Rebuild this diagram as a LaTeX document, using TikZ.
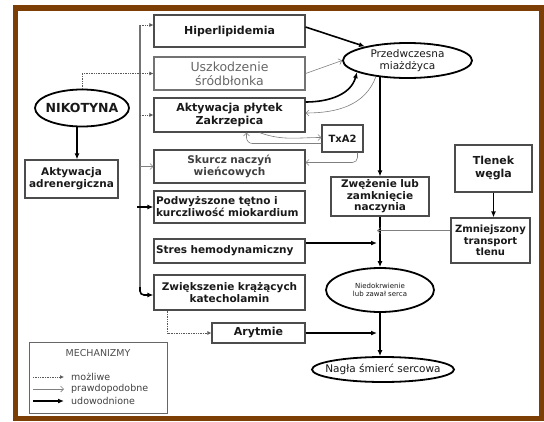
\documentclass[tikz,border=0pt]{standalone}
\usepackage{fontspec}
\setmainfont{DejaVu Sans}
\usepackage{tikz}
\usetikzlibrary{arrows.meta,positioning,shapes.geometric}
\definecolor{brazowy}{RGB}{125,62,5}

\begin{document}
\begin{tikzpicture}[x=1pt, y=-1pt,
                    every node/.style={font=\fontsize{10.5}{12}\selectfont\bfseries, text=black!90},
                    box/.style={draw=black!70, line width=1.2pt, inner sep=2pt, text width=147pt, align=center},
                    oval/.style={ellipse, draw=black, line width=1.8pt, inner ysep=0pt, align=center, fill=white},
                    leg/.style={anchor=west, inner sep=1pt, font=\fontsize{9.5}{11}\selectfont, text=black!75},
                    szyna/.style={draw=black!55, line width=2.2pt},
                    mozliwe/.style={draw=black!65, line width=0.7pt, densely dotted, -{Latex[length=4pt,width=4pt]}},
                    prawdop/.style={draw=black!50, line width=0.6pt, -{Straight Barb[length=3pt,width=6pt]}},
                    udowod/.style={draw=black, line width=1.6pt, -{Latex[length=6pt,width=5pt]}}]
    \useasboundingbox (0,0) rectangle (544,421);
    \draw[brazowy, line width=5.5pt] (15.5,8) rectangle (541.5,418.5);

   % left column
   \node[box, minimum height=32pt, font=\fontsize{11}{12.5}\selectfont\bfseries] (hiper) at (229.5,31) {Hiperlipidemia};
   \node[box, minimum height=33pt, draw=black!55, text=black!60,
         font=\fontsize{12.5}{14}\selectfont] (uszk) at (229.5,73.5) {Uszkodzenie\\śródbłonka};
   \node[box, minimum height=34pt, font=\fontsize{11}{12.5}\selectfont\bfseries] (akt) at (229.5,115) {Aktywacja płytek\\Zakrzepica};
   \node[box, minimum height=33pt, text=black!75] (skurcz) at (229.5,166.5) {Skurcz naczyń\\wieńcowych};
   \node[box, minimum height=32pt, align=left] (podw) at (229.5,207) {Podwyższone tętno i\\kurczliwość miokardium};
   \node[box, minimum height=24pt, align=left] (stres) at (229.5,251) {Stres hemodynamiczny};
   \node[box, minimum height=35pt] (zwiek) at (229.5,292.5) {Zwiększenie krążących\\katecholamin};
   \node[box, text width=89pt, minimum height=20pt, font=\fontsize{11}{12}\selectfont\bfseries] (aryt) at (258.5,333) {Arytmie};

   \node[oval, minimum width=94pt, minimum height=37pt, inner xsep=-6pt,
         font=\fontsize{12.5}{14}\selectfont\bfseries] (nik) at (82,108) {NIKOTYNA};
   \node[box, text width=89pt, minimum height=38pt] (adren) at (71.5,179) {Aktywacja\\adrenergiczna};

   % right side
   \node[oval, minimum width=129pt, minimum height=35pt, font=\fontsize{10.5}{12}\selectfont] (przed) at (407.5,60.5) {Przedwczesna\\miażdżyca};
   \node[box, text width=37pt, minimum height=27pt, font=\fontsize{10}{12}\selectfont\bfseries] (txa) at (342.5,138.5) {TxA2};
   \node[box, text width=94pt, minimum height=39pt, font=\fontsize{10.5}{11.5}\selectfont\bfseries] (zwez) at (380,196.5) {Zwężenie lub\\zamknięcie\\naczynia};
   \node[box, text width=73pt, minimum height=47pt, font=\fontsize{11}{13}\selectfont\bfseries] (tlenek) at (493.5,168.5) {Tlenek\\węgla};
   \node[box, text width=75pt, minimum height=45pt, font=\fontsize{10}{11.5}\selectfont\bfseries] (zmniej) at (490.5,240.5) {Zmniejszony\\transport\\tlenu};
   \node[oval, minimum width=108pt, minimum height=44pt, font=\fontsize{7}{8.5}\selectfont] (niedo) at (380,290) {Niedokrwienie\\lub zawał serca};
   \node[oval, minimum width=142pt, minimum height=25pt, inner xsep=-8pt,
         font=\fontsize{10.5}{12}\selectfont] (nagla) at (383,369.5) {Nagła śmierć sercowa};

   % legend
   \node[box, text width=134pt, minimum height=71pt, draw=black!60, line width=1pt] (leg) at (98,377.5) {};
   \node[below=4pt of leg.north, font=\fontsize{9.5}{11}\selectfont, text=black!70] (legtyt) {MECHANIZMY};
   \node[leg] (lmoz) at (70,377) {możliwe};
   \node[leg] (lpraw) at (70,389) {prawdopodobne};
   \node[leg] (ludow) at (70,401) {udowodnione};
   \draw[mozliwe] ([xshift=-37pt]lmoz.west) -- ([xshift=-6pt]lmoz.west);
   \draw[prawdop] ([xshift=-37pt]lpraw.west) -- ([xshift=-6pt]lpraw.west);
   \draw[udowod] ([xshift=-37pt]ludow.west) -- ([xshift=-6pt]ludow.west);

   % bus from nicotine
   \coordinate (bus) at (140,25);
   \coordinate (busend) at (140,295);
   \draw[szyna] (bus) -- ([yshift=6pt]busend);
   \draw[udowod, rounded corners=4pt] ([yshift=8pt]busend) |- ([yshift=-2.5pt]zwiek.west);
   \draw[mozliwe] (bus) -- (bus -| hiper.west);
   \draw[mozliwe] (nik.north) |- (uszk.west);
   \draw[mozliwe] (bus |- akt.west) -- (akt.west);
   \draw[prawdop] (bus |- skurcz.west) -- (skurcz.west);
   \draw[udowod] ([xshift=-3pt]bus |- podw.west) -- (podw.west);
   \draw[udowod] ([xshift=-5pt]nik.south) -- ([xshift=-5pt]nik.south |- adren.north);

   % into atherosclerosis
   \draw[udowod] ([yshift=4pt]hiper.east) -- (przed);
   \draw[prawdop] (uszk.east) -- (przed.west);
   \draw[udowod] ([yshift=13pt]akt.east) to[out=0, in=-105] (przed.193);
   \draw[prawdop] (przed.207) to[out=-110, in=0] ([yshift=2pt]akt.east);

   % thromboxane loop
   \draw[prawdop] ([xshift=30pt]akt.south) to[out=-20, in=180] ([yshift=1pt]txa.west);
   \draw[prawdop, rounded corners=6pt] ([yshift=-5pt]txa.west) -| ([xshift=17pt]akt.south);
   \draw[prawdop, rounded corners=5pt] ([xshift=15pt]txa.south) |- ([yshift=4pt]skurcz.east);

   % main line
   \draw[udowod] ([yshift=2pt]przed.south -| zwez.north) -- (zwez.north);
   \draw[udowod] (zwez.south) -- (niedo.north);
   \draw[udowod] (niedo.south) -- (niedo.south |- nagla.north);
   \draw[udowod] (tlenek.south) -- (tlenek.south |- zmniej.north);
   \draw[prawdop, shorten >=-3pt] ([yshift=10pt]zmniej.west) -- ([yshift=10pt]zmniej.west -| zwez.south);
   \draw[udowod, shorten >=3pt] ([yshift=8pt]stres.east) -- ([yshift=8pt]stres.east -| zwez.south);
   \draw[udowod, shorten >=3pt] (aryt.east) -- (aryt.east -| niedo.south);
   \draw[mozliwe] ([xshift=-62pt]zwiek.south) |- (aryt.west);

\end{tikzpicture}
\end{document}
